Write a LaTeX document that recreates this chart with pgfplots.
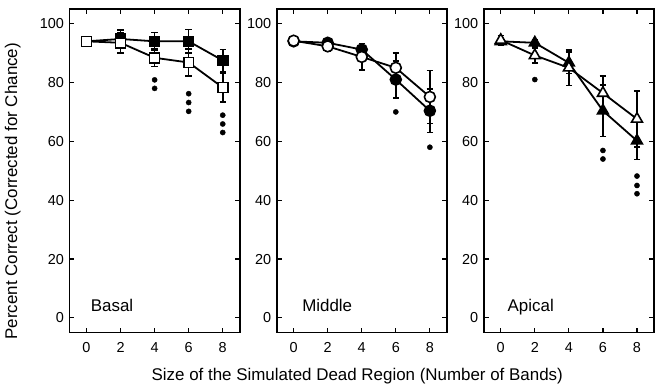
\documentclass[border=0pt]{standalone}
\usepackage{pgfplots}
\pgfplotsset{compat=1.18}
\usepackage{fontspec}
\setmainfont{Liberation Sans}
\begin{document}
\pgfplotsset{
  panel/.style={
    width=171pt, height=325pt, scale only axis,
    xmin=-1, xmax=9, ymin=-5, ymax=105,
    xtick={0,2,4,6,8}, ytick={0,20,40,60,80,100},
    tick align=inside, major tick length=5pt,
    every tick/.style={black, line width=1.2pt},
    axis line style={black, line width=1.8pt},
    tick label style={font=\fontsize{14.5}{17}\selectfont},
    /pgf/number format/assume math mode=true,
    xticklabel style={yshift=-6pt},
    yticklabel style={xshift=-2pt},
    clip=false,
  },
  ser/.style={black, line width=1.8pt,
    error bars/y dir=both, error bars/y explicit, error bars/error mark=-,
    error bars/error bar style={line width=1.6pt},
    error bars/error mark options={black, line width=1.6pt, mark size=3.2pt, rotate=90}},
  dots/.style={only marks, mark=*, mark size=2.6pt, black},
}
\begin{tikzpicture}
\path[use as bounding box] (0,0) rectangle (655pt,388pt);
% ---------- Basal ----------
\begin{axis}[panel, at={(67pt,54pt)}, anchor=south west]
\addplot[ser, mark=square*, mark size=5pt, mark options={fill=black, line width=1.6pt}]
  coordinates {(0,94) +- (0,1.5) (2,94.8) +- (0,3) (4,94) +- (0,3) (6,94) +- (0,4) (8,87.5) +- (0,3.7)};
\addplot[ser, mark=square*, mark size=5pt, mark options={fill=white, line width=1.6pt}]
  coordinates {(0,94) +- (0,1.5) (2,93.5) +- (0,3.5) (4,88.4) +- (0,3) (6,86.8) +- (0,4.5) (8,78.3) +- (0,5)};
\addplot[dots] coordinates {(4,80.9) (4,78) (6,76.2) (6,73.2) (6,70.2) (8,68.9) (8,65.9) (8,63)};
\node[anchor=base west, font=\fontsize{17}{20}\selectfont] at (axis cs:0.05,2) {Basal};
\end{axis}
% ---------- Middle ----------
\begin{axis}[panel, at={(275pt,54pt)}, anchor=south west]
\addplot[ser, mark=*, mark size=5.5pt, mark options={fill=black, line width=1.6pt}]
  coordinates {(0,94) +- (0,1) (2,93.5) +- (0,1) (4,91.2) +- (0,1.2) (6,81) +- (0,6.3) (8,70.4) +- (0,7.4)};
\addplot[ser, mark=*, mark size=5.5pt, mark options={fill=white, line width=1.6pt}]
  coordinates {(0,94.2) +- (0,1) (2,92.3) +- (0,1.5) (4,88.7) +- (0,4.5) (6,85) +- (0,5) (8,75.1) +- (0,9)};
\addplot[dots] coordinates {(6,70) (8,58)};
\node[anchor=base west, font=\fontsize{17}{20}\selectfont] at (axis cs:0.3,2) {Middle};
\end{axis}
% ---------- Apical ----------
\begin{axis}[panel, at={(483pt,54pt)}, anchor=south west]
\addplot[ser, mark=triangle*, mark size=6.3pt, mark options={fill=black, line width=1.6pt}]
  coordinates {(0,94) +- (0,1) (2,93.5) +- (0,1) (4,86.7) +- (0,3.6) (6,70.4) +- (0,8.7) (8,60.2) +- (0,6.4)};
\addplot[ser, mark=triangle*, mark size=6.3pt, mark options={fill=white, line width=1.6pt}]
  coordinates {(0,94.4) +- (0,1.6) (2,89.2) +- (0,2.5) (4,85) +- (0,6) (6,76.4) +- (0,5.8) (8,67.6) +- (0,9.5)};
\addplot[dots] coordinates {(2,81) (6,56.9) (6,54) (8,48.2) (8,45) (8,42.2)};
\node[anchor=base west, font=\fontsize{17}{20}\selectfont] at (axis cs:0.2,2) {Apical};
\end{axis}
\node[font=\fontsize{17}{20}\selectfont] at (356pt,10pt) {Size of the Simulated Dead Region (Number of Bands)};
\node[font=\fontsize{17}{20}\selectfont, rotate=90] at (10pt,196pt) {Percent Correct (Corrected for Chance)};
\end{tikzpicture}
\end{document}
